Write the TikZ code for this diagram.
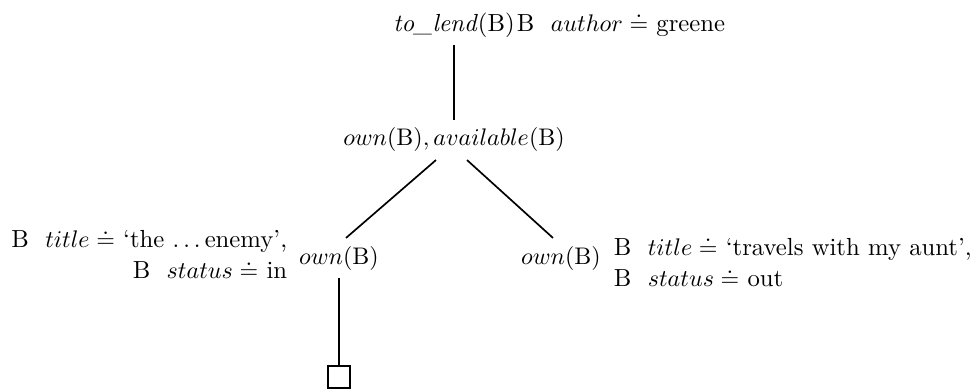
\documentclass[tikz,border=0pt]{standalone}
\usepackage{amsmath, amssymb}
\usepackage{tikz}
\usetikzlibrary{calc}

\tikzset{
	every node/.style={font=\fontsize{10.3}{13}\selectfont},
	goal/.style={inner xsep=1pt, inner ysep=3pt},
	binding/.style={inner sep=0pt},
	emptybox/.style={draw, minimum size=9.2pt, inner sep=0pt},
	every path/.style={line width=0.7pt}
}

\begin{document}
\begin{tikzpicture}[x=0.4167pt, y=-0.4167pt]
	\useasboundingbox (0,0) rectangle (976,389);

	\node [goal] (lend) at (454,25) {\textit{to\_lend}(B)};
	\node [binding, anchor=base west] (author) at ([xshift=-0.8pt]lend.base east) {B\ \ $author \doteq$ greene};
	\node [goal] (avail) at (454,140) {$own(\mathrm{B}), available(\mathrm{B})$};

	\node [goal] (lown) at (339,258) {$own(\mathrm{B})$};
	\node [goal] (rown) at (561,258) {$own(\mathrm{B})$};
	\node [binding, anchor=east, align=right] (inbind) at (288,254) {B\ \ $title \doteq$ `the $\ldots$\,enemy',\\ B\ \ $status \doteq$ in};
	\node [binding, anchor=west, align=left] (outbind) at (613,262) {B\ \ $title \doteq$ `travels with my aunt',\\ B\ \ $status \doteq$ out};

	\node [emptybox] (done) at (339,377) {};

	\draw (lend) -- (avail);
	\draw ($(avail.south)+(-18,0)$) -- ($(lown.north)+(7,0)$);
	\draw ($(avail.south)+(13,0)$) -- ($(rown.north)+(-8,0)$);
	\draw (lown) -- (done);
\end{tikzpicture}
\end{document}
